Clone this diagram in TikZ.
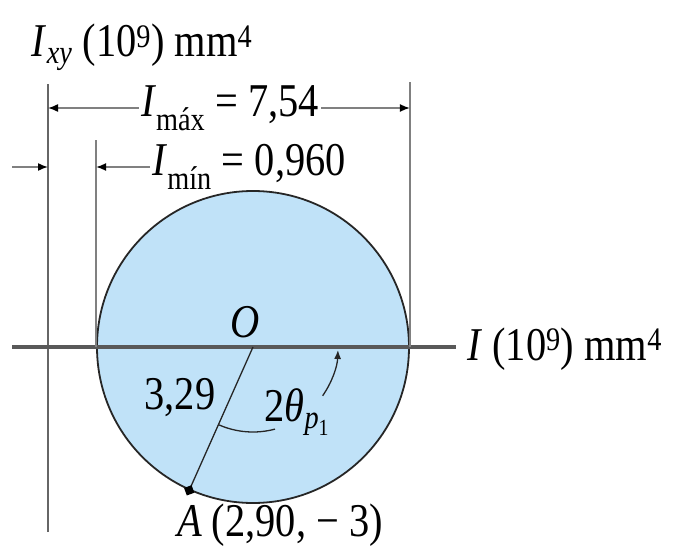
\documentclass[tikz,border=0pt]{standalone}
\usepackage{fontspec}
\setmainfont[FakeStretch=0.86]{Liberation Serif}
\usetikzlibrary{positioning,arrows.meta,calc}
\definecolor{mohrfill}{RGB}{192,226,248}

\begin{document}
\begin{tikzpicture}[
  x=1pt, y=1pt, font=\fontsize{47}{54}\selectfont,
  mohr/.style={circle, draw=black!85, line width=1.8pt, fill=mohrfill,
               inner sep=0pt, minimum size=312pt},
  axis/.style={draw=black!60, line width=2.5pt},
  haxis/.style={draw=black!65, line width=3.5pt},
  dim/.style={draw=black!50, line width=1.5pt},
  darr/.style={dim, -{Latex[length=10pt,width=8pt,color=black]}},
  rline/.style={draw=black!85, line width=1.3pt},
  lbl/.style={inner sep=2pt},
  dot/.style={rectangle, fill=black, inner sep=0pt, minimum size=8pt, rotate=20},
]
\useasboundingbox (0,0) rectangle (677,550);

% circle and axes
\node[mohr] (circ) at (253,203) {};

\coordinate (yb) at (48,18);
\coordinate (yt) at (48,466);
\coordinate (xl) at (12,203);
\coordinate (xr) at (456,203);
\draw[axis] (yb) -- (yt);
\draw[haxis] (xl) -- (xr);

\node[lbl] (iylab) at (142,503) {\textit{I}\textsubscript{\textit{xy}} (10\textsuperscript{9}) mm\textsuperscript{4}};
\node[lbl, anchor=base west] (ilab) at (465,190) {\textit{I} (10\textsuperscript{9}) mm\textsuperscript{4}};

% extension lines
\coordinate (rt) at ($(circ.east)+(0,265)$);
\coordinate (lt) at ($(circ.west)+(0,207)$);
\draw[dim] (circ.east) -- (rt);
\draw[dim] (circ.west) -- (lt);

% I max / I min
\node[lbl] (imax) at (230,442) {\textit{I}\textsubscript{máx} = 7,54};
\draw[darr] (imax.west) -- (imax.west -| yt);
\draw[darr] (imax.east) -- (imax.east -| circ.east);

\node[lbl] (imin) at (249,383) {\textit{I}\textsubscript{mín} = 0,960};
\coordinate (ml) at (12,383);
\draw[darr] (imin.west) -- (imin.west -| circ.west);
\draw[darr] (ml) -- (ml -| yt);

% radius to A
\draw[rline] (circ.center) -- (circ.246);
\node[dot] (A) at (circ.246) {};
\node[lbl] (olab) at (245,228) {\textit{O}};
\node[lbl] (rlab) at (180,152) {3,29};
\node[lbl] (alab) at (280,25) {\textit{A} (2,90, − 3)};

% angle 2theta
\draw[rline] ($(circ.center)+(246:85)$) arc[start angle=246, end angle=285, radius=85];
\draw[rline, -{Latex[length=9pt,width=7pt]}] ($(circ.center)+(325:85)$) arc[start angle=325, end angle=358, radius=85];
\node[lbl] (tlab) at (297,138) {2\textit{θ}\textsubscript{\textit{p}\textsubscript{1}}};
\end{tikzpicture}
\end{document}
